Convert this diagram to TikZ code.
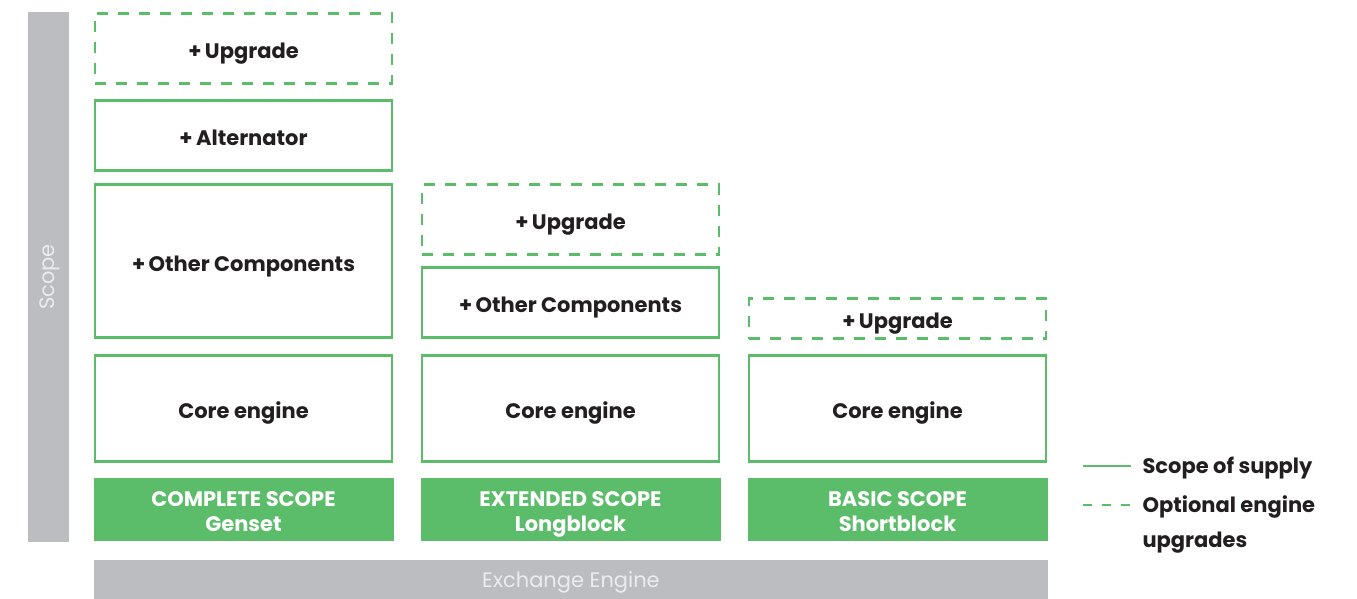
\documentclass[tikz,border=0pt]{standalone}
\usepackage{fontspec}
\setmainfont{Poppins}
\usepackage{tikz}
\usetikzlibrary{positioning}

\definecolor{scopegreen}{HTML}{5BBD6A}
\definecolor{scopegrey}{HTML}{BCBDC1}
\definecolor{textdark}{HTML}{231F20}
\definecolor{textlight}{HTML}{ECECEE}

\tikzset{
  part/.style={draw=scopegreen, line width=2.5pt, fill=white, minimum width=297pt,
    inner sep=0pt, text height=20pt, text depth=0pt, text=textdark,
    font=\fontsize{21}{25}\selectfont\bfseries},
  optpart/.style={part, dashed, dash pattern=on 11pt off 10pt},
  scopelabel/.style={fill=scopegreen, minimum width=300pt, minimum height=63pt, inner sep=0pt,
    text height=44pt, text depth=0pt, text=white, align=center,
    font=\fontsize{21}{25}\selectfont\bfseries},
  legendtext/.style={anchor=west, align=left, text=textdark,
    font=\fontsize{21}{35}\selectfont\bfseries}
}

\begin{document}
\begin{tikzpicture}[x=1pt, y=-1pt]
  \useasboundingbox (0,0) rectangle (1357,599);

  % --- 1. Grey bars ---
  \fill[scopegrey] (28,12) rectangle (69,542);
  \node[rotate=90, text=textlight, font=\fontsize{21}{25}\selectfont] (scope) at (49.5,277) {Scope};
  \node[fill=scopegrey, minimum width=954pt, minimum height=40pt, inner sep=0pt, text depth=0pt,
    text=textlight, font=\fontsize{21}{25}\selectfont] (exchange) at (571,580) {Exchange Engine};

  % --- 2. Complete scope (Genset) ---
  \node[optpart, minimum height=70pt] (c1up) at (243.5,48.5) {+\,Upgrade};
  \node[part, minimum height=70pt] (c1alt) at (243.5,135.5) {+\,Alternator};
  \node[part, minimum height=153pt] (c1oth) at (243.5,261) {+\,Other Components};
  \node[part, minimum height=106pt] (c1core) at (243.5,408.5) {Core engine};
  \node[scopelabel] (c1lab) at (243.5,509.5) {COMPLETE SCOPE\\Genset};

  % --- 3. Extended scope (Longblock) ---
  \node[optpart, minimum height=70pt] (c2up) at (570.5,219.5) {+\,Upgrade};
  \node[part, minimum height=70pt] (c2oth) at (570.5,302.5) {+\,Other Components};
  \node[part, minimum height=106pt] (c2core) at (570.5,408.5) {Core engine};
  \node[scopelabel] (c2lab) at (570.5,509.5) {EXTENDED SCOPE\\Longblock};

  % --- 4. Basic scope (Shortblock) ---
  \node[optpart, minimum height=40pt] (c3up) at (897.5,318.5) {+\,Upgrade};
  \node[part, minimum height=106pt] (c3core) at (897.5,408.5) {Core engine};
  \node[scopelabel] (c3lab) at (897.5,509.5) {BASIC SCOPE\\Shortblock};

  % --- 5. Legend ---
  \coordinate (solidA) at (1083,466);
  \coordinate (solidB) at (1131,466);
  \coordinate (dashA) at (1083,505);
  \coordinate (dashB) at (1131,505);
  \draw[scopegreen, line width=2.5pt] (solidA) -- (solidB);
  \draw[scopegreen, line width=2.5pt, dash pattern=on 9pt off 10pt] (dashA) -- (dashB);
  \node[legendtext] (supply) at (1139,468) {Scope of supply};
  \node[legendtext] (optional) at (1139,524) {Optional engine\\upgrades};
\end{tikzpicture}
\end{document}
